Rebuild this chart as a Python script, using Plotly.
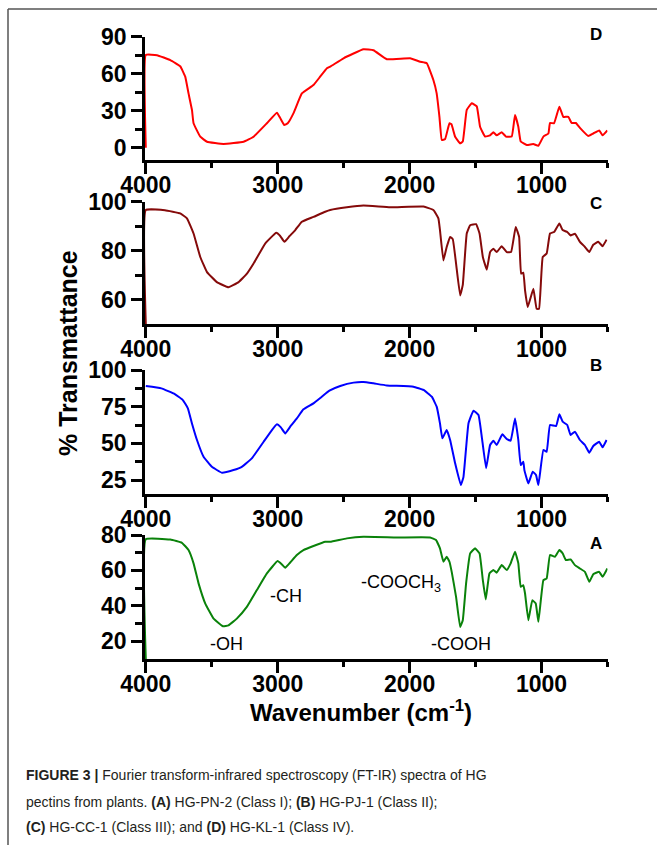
import plotly.graph_objects as go

# ---------------- data ----------------
wn_D = [4000, 4000, 3915, 3814, 3739, 3701, 3676, 3650, 3638, 3587, 3536, 3411, 3259, 3183, 3082, 3006,
        2981, 2951, 2924, 2880, 2817, 2729, 2678, 2627, 2602, 2501, 2350, 2274, 2173, 1996, 1920, 1870,
        1820, 1795, 1774, 1756, 1731, 1698, 1683, 1655, 1617, 1597, 1567, 1529, 1491, 1466, 1428, 1390,
        1365, 1340, 1302, 1270, 1226, 1201, 1176, 1158, 1112, 1062, 1024, 986, 948, 936, 905, 865, 835,
        797, 772, 740, 709, 646, 608, 563, 537, 501]
t_D = [0, 75.2, 75, 71, 66, 57.6, 44, 30.6, 19.8, 8.9, 4.8, 3, 4.8, 8.9, 19.8, 28.4,
       24, 18.4, 19.8, 28, 44, 50.8, 57.6, 64.4, 65.7, 72.5, 79.8, 79, 71.7, 72.5, 69.7, 68.5,
       54.9, 44, 25, 6.2, 7, 19.8, 19, 8.9, 3.5, 5, 30.6, 36, 33.5, 17, 9, 10,
       12.5, 10, 12.5, 9, 9, 26.5, 17, 5, 2.2, 3, 1.5, 9, 11.5, 20, 19.8, 33.2, 25,
       25, 20, 20, 16, 9.5, 11.5, 14, 10, 14]

wn_C = [4000, 4000, 3855, 3739, 3688, 3638, 3587, 3536, 3461, 3373, 3297, 3233, 3183, 3095, 3011, 2981,
        2949, 2911, 2867, 2817, 2729, 2640, 2602, 2476, 2350, 2148, 1895, 1820, 1782, 1770, 1744, 1719,
        1693, 1673, 1648, 1617, 1597, 1567, 1541, 1496, 1470, 1445, 1415, 1390, 1365, 1340, 1302, 1264,
        1231, 1196, 1170, 1155, 1138, 1125, 1105, 1062, 1037, 1019, 991, 961, 936, 905, 865, 840, 805,
        780, 747, 709, 671, 638, 608, 570, 537, 507]
t_C = [50, 96.6, 96.5, 95.2, 93.2, 87, 77.4, 71.2, 67.1, 65, 67.1, 70.6, 74.7, 82.9, 87.3, 86,
       83.6, 85.9, 88.4, 91.8, 93.8, 95.9, 96.6, 97.7, 98.4, 97.7, 98, 96.6, 93.2, 88.4, 76, 81.5,
       85.6, 84.7, 74.7, 61.7, 66, 87, 90.4, 90.8, 87, 77.4, 72.2, 79.4, 80.8, 79.4, 81.8, 79.4,
       79.4, 89.7, 85.6, 70.6, 71, 63.7, 56.9, 64.4, 56.2, 56.2, 77.4, 78.8, 87, 87.6, 91.1, 88.4, 87.6,
       86.2, 86.9, 83.6, 81.5, 79.4, 82.4, 83.6, 81.8, 84.5]

wn_B = [4000, 3882, 3780, 3719, 3681, 3650, 3612, 3562, 3499, 3423, 3335, 3272, 3196, 3107, 3044, 3006,
        2976, 2943, 2905, 2855, 2805, 2729, 2666, 2608, 2526, 2425, 2350, 2274, 2173, 1971, 1895, 1832,
        1795, 1770, 1752, 1719, 1693, 1655, 1612, 1592, 1554, 1516, 1478, 1453, 1420, 1390, 1365, 1340,
        1297, 1264, 1234, 1201, 1176, 1158, 1138, 1130, 1100, 1067, 1042, 1024, 986, 961, 936, 890, 865,
        840, 805, 780, 747, 709, 671, 638, 608, 563, 537, 507]
t_B = [89.1, 87.5, 83.6, 79.5, 73.9, 63.6, 52.3, 40.9, 34, 30, 31.8, 34, 39.8, 51.1, 59.1, 63,
       60.9, 56.8, 61.4, 67, 73.2, 77.3, 81.8, 85.9, 89.1, 91.4, 91.8, 90.9, 89.5, 88.6, 86.4, 81.8,
       75, 63.6, 53.4, 59.1, 52.3, 36.4, 21.6, 27, 63.6, 72.3, 69.3, 54.5, 33, 48.9, 51.8, 48.9,
       56.2, 53, 51.8, 67, 52.3, 35.2, 37.5, 31.8, 22.7, 30.7, 28.4, 21.6, 45.5, 44.3, 62.5, 61.8, 69.8,
       64.8, 62.5, 55.7, 58, 52.3, 48.9, 43.6, 48.2, 51.1, 47.3, 52.3]

wn_A = [4000, 4000, 3814, 3726, 3676, 3638, 3600, 3549, 3486, 3415, 3373, 3310, 3234, 3158, 3082, 3001,
        2968, 2943, 2905, 2855, 2805, 2729, 2640, 2602, 2476, 2350, 2097, 1845, 1800, 1770, 1744, 1719,
        1698, 1681, 1648, 1617, 1597, 1572, 1541, 1504, 1470, 1445, 1423, 1395, 1365, 1340, 1302, 1264,
        1234, 1201, 1176, 1158, 1138, 1125, 1100, 1070, 1044, 1024, 986, 961, 936, 898, 865, 840, 815,
        780, 747, 709, 671, 638, 608, 563, 537, 501]
t_A = [10, 77.6, 77.4, 75.6, 71.5, 64, 52.7, 41.3, 32.8, 28.5, 29, 32.8, 39.4, 48.9, 58.3, 65.3,
       63.4, 61.5, 64.5, 68.7, 71.5, 73.8, 76.2, 76.2, 78.1, 79, 78.6, 78.6, 77.2, 72.5, 64.9, 67.7,
       64.9, 59.2, 45.1, 28.1, 31.9, 52.7, 69.6, 72.5, 69.6, 54.5, 43.6, 58.3, 60.2, 58.7, 63, 60.2,
       64, 70.6, 64, 50.7, 51.7, 47, 31.9, 43.2, 41.3, 31, 54.5, 55.5, 68.7, 67.7, 71.5, 69.6, 65.8,
       66.2, 63, 61.1, 59.2, 53.6, 57.9, 59.2, 56.4, 61.1]

x_ticks = [4000, 3000, 2000, 1000]
x_minor = [3500, 2500, 1500, 500]
panel_names = ["D", "C", "B", "A"]
y_ticks = {"D": [0, 30, 60, 90], "C": [60, 80, 100], "B": [25, 50, 75, 100], "A": [20, 40, 60, 80]}
y_minor = {"D": [15, 45, 75], "C": [70, 90], "B": [37.5, 62.5, 87.5], "A": [30, 50, 70]}
y_ranges = {"D": [-10, 90], "C": [50, 100], "B": [15.5, 100], "A": [10, 80]}
series = {"D": (wn_D, t_D), "C": (wn_C, t_C), "B": (wn_B, t_B), "A": (wn_A, t_A)}
colors = {"D": "#ff0000", "C": "#850a0a", "B": "#0000ff", "A": "#0a820a"}

# ---------------- layout geometry (pixels) ----------------
W, H = 657, 845
def px(x): return x / W
def py(y): return 1 - y / H

x_dom = [px(145), px(607.5)]
y_doms = {"D": (36.7, 160), "C": (201.7, 324), "B": (370, 494), "A": (535, 659)}
label_pos = {"D": 35, "C": 203, "B": 365, "A": 543}

FONT = "Liberation Sans, Arial, sans-serif"
fig = go.Figure()
layout = dict(width=W, height=H, margin=dict(l=0, r=0, t=0, b=0, autoexpand=False),
              paper_bgcolor="white", plot_bgcolor="white", showlegend=False)

annotations = []
for i, name in enumerate(panel_names, start=1):
    wn, tv = series[name]
    xa = "x" if i == 1 else f"x{i}"
    ya = "y" if i == 1 else f"y{i}"
    fig.add_trace(go.Scatter(x=wn, y=tv, mode="lines", xaxis=xa, yaxis=ya,
                             line=dict(color=colors[name], width=2, shape="spline", smoothing=0.3),
                             hoverinfo="skip"))
    top, bot = y_doms[name]
    axis_common = dict(showline=True, linecolor="black", linewidth=2.5, showgrid=False,
                       zeroline=False, ticks="outside", tickcolor="black", tickwidth=2.5,
                       layer="below traces", automargin=False,
                       tickfont=dict(family=FONT, size=23, color="black", weight="bold"))
    layout["xaxis" if i == 1 else f"xaxis{i}"] = dict(
        axis_common, domain=x_dom, range=[4006, 500], anchor=ya,
        tickmode="array", tickvals=x_ticks, ticktext=[str(v) for v in x_ticks], ticklen=11,
        ticklabelstandoff=-8,
        minor=dict(tickvals=x_minor, ticks="outside", ticklen=5, tickwidth=2.5, tickcolor="black"))
    layout["yaxis" if i == 1 else f"yaxis{i}"] = dict(
        axis_common, domain=[py(bot), py(top)], range=y_ranges[name], anchor=xa,
        tickmode="array", tickvals=y_ticks[name], ticktext=[str(v) for v in y_ticks[name]],
        ticklen=11,
        minor=dict(tickvals=y_minor[name], ticks="outside", ticklen=7, tickwidth=2.5, tickcolor="black"))
    annotations.append(dict(x=px(596), y=py(label_pos[name]), xref="paper", yref="paper",
                            text=f"<b>{name}</b>", showarrow=False, xanchor="center", yanchor="middle",
                            font=dict(family=FONT, size=17, color="black")))

# band labels in panel A
band_labels = [("-OH", 226, 644), ("-CH", 285.5, 595.7), ("-COOCH<sub>3</sub>", 401, 583), ("-COOH", 460.5, 644)]
for txt, bx, by in band_labels:
    annotations.append(dict(x=px(bx), y=py(by), xref="paper", yref="paper", text=txt, showarrow=False,
                            xanchor="center", yanchor="middle",
                            font=dict(family=FONT, size=18, color="black")))

# axis titles
annotations.append(dict(x=px(68), y=py(353), xref="paper", yref="paper", text="<b>% Transmattance</b>",
                        textangle=-90, showarrow=False, xanchor="center", yanchor="middle",
                        font=dict(family=FONT, size=25, color="black")))
annotations.append(dict(x=px(361), y=py(711), xref="paper", yref="paper",
                        text="<b>Wavenumber (cm<sup>-1</sup>)</b>", showarrow=False,
                        xanchor="center", yanchor="middle",
                        font=dict(family=FONT, size=24, color="black")))

# caption
CAP_FONT = "Liberation Sans, Arial, sans-serif"
caption = [
    ("<b>FIGURE 3 |</b> Fourier transform-infrared spectroscopy (FT-IR) spectra of HG", 775),
    ("pectins from plants. <b>(A)</b> HG-PN-2 (Class I); <b>(B)</b> HG-PJ-1 (Class II);", 802),
    ("<b>(C)</b> HG-CC-1 (Class III); and <b>(D)</b> HG-KL-1 (Class IV).", 827),
]
for txt, cy in caption:
    annotations.append(dict(x=px(24), y=py(cy), xref="paper", yref="paper", text=txt, showarrow=False,
                            xanchor="left", yanchor="middle", align="left",
                            font=dict(family=CAP_FONT, size=14, color="#231f20")))

layout["annotations"] = annotations
layout["shapes"] = [
    dict(type="line", xref="paper", yref="paper", x0=px(8), x1=1, y0=py(9), y1=py(9),
         line=dict(color="#555555", width=1.5)),
    dict(type="line", xref="paper", yref="paper", x0=px(8), x1=px(8), y0=py(9), y1=0,
         line=dict(color="#555555", width=1.5)),
]
fig.update_layout(**layout)
fig.write_html("out.html")
